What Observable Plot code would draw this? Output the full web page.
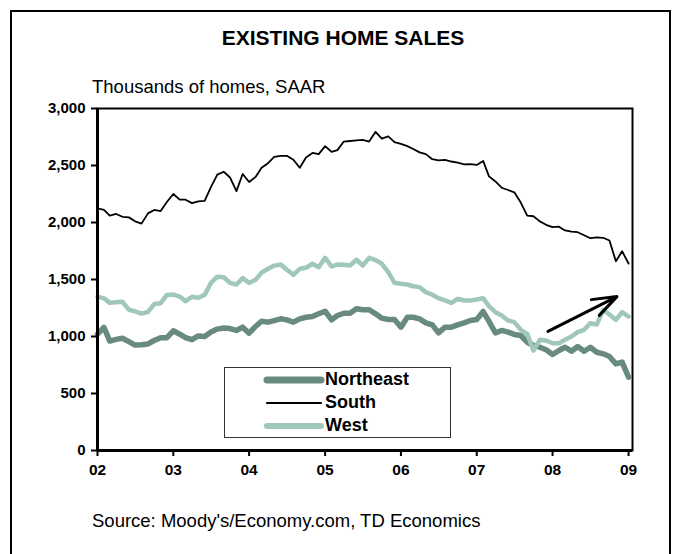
<!DOCTYPE html>
<html><head><meta charset="utf-8">
<script src="https://cdn.jsdelivr.net/npm/d3@7"></script>
<script src="https://cdn.jsdelivr.net/npm/@observablehq/plot@0.6"></script>
<style>
body{margin:0;background:#fff;font-family:Arial,"Liberation Sans",sans-serif;}
#wrap{position:relative;width:678px;height:554px;overflow:hidden;background:#fff;}
#border{position:absolute;left:10px;top:10px;width:657px;height:600px;border:2px solid #000;}
.t{position:absolute;white-space:nowrap;color:#000;}
#title{left:0;width:686px;top:26px;text-align:center;font-weight:bold;font-size:21px;}
#sub{left:92px;top:76px;font-size:18.5px;}
#src{left:92px;top:510px;font-size:18.5px;}
#chart{position:absolute;left:0;top:0;}
#legend{position:absolute;left:224px;top:367px;width:225px;height:69px;border:1px solid #333;background:#fff;}
.li{position:absolute;left:0;height:22px;width:225px;}
.li svg{position:absolute;left:38px;top:0;}
.li span{position:absolute;left:100px;top:0px;font-weight:bold;font-size:18px;line-height:21px;}
</style></head><body>
<div id="wrap">
  <div id="border"></div>
  <div id="chart"></div>
  <div class="t" id="title">EXISTING HOME SALES</div>
  <div class="t" id="sub">Thousands of homes, SAAR</div>
  <div class="t" id="src">Source: Moody's/Economy.com, TD Economics</div>
  <div id="legend"></div>
</div>
<script>
const seriesNames = ["Northeast", "South", "West"];
const seriesColors = ["#688a80", "#000000", "#9fc7bc"];
const seriesWidths = [5.5, 1.8, 4.5];

const northeast = [1020,1080,960,975,985,955,925,928,935,965,990,990,
 1050,1020,990,972,1005,1000,1040,1065,1075,1070,1053,1082,
 1029,1088,1134,1126,1140,1155,1146,1126,1155,1169,1175,1199,
 1222,1146,1184,1204,1204,1243,1234,1235,1199,1161,1149,1149,
 1082,1169,1169,1155,1120,1102,1032,1082,1082,1102,1120,1140,
 1149,1219,1132,1032,1053,1038,1018,1009,950,921,906,883,
 842,877,906,871,912,871,906,862,848,825,760,775,
 643];
const south = [2125,2110,2060,2075,2050,2045,2010,1990,2080,2110,2100,2180,
 2250,2200,2200,2170,2185,2190,2310,2420,2445,2395,2275,2425,
 2355,2400,2480,2520,2575,2585,2585,2550,2480,2570,2610,2600,
 2670,2620,2635,2710,2715,2720,2725,2710,2795,2735,2755,2705,
 2690,2670,2645,2615,2600,2555,2545,2550,2535,2525,2510,2512,
 2505,2540,2405,2360,2305,2285,2265,2175,2060,2055,2010,1980,
 1960,1963,1930,1920,1915,1888,1862,1870,1866,1842,1660,1748,
 1640];
const west = [1350,1335,1295,1300,1305,1235,1220,1200,1215,1285,1292,1365,
 1368,1350,1310,1348,1340,1365,1470,1525,1520,1470,1456,1512,
 1470,1497,1560,1594,1622,1632,1585,1541,1594,1603,1638,1608,
 1690,1614,1632,1630,1623,1673,1623,1690,1670,1638,1564,1471,
 1462,1456,1441,1433,1389,1366,1336,1316,1295,1331,1316,1316,
 1324,1336,1266,1213,1185,1140,1126,1059,1023,877,971,965,
 941,941,971,1000,1038,1059,1117,1105,1234,1193,1146,1213,
 1175];
const seriesValues = [northeast, south, west];

const xTickLabels = ["02","03","04","05","06","07","08","09"];
const yTicks = [0, 500, 1000, 1500, 2000, 2500, 3000];
const xDomain = [new Date(Date.UTC(2002,0,1)), new Date(Date.UTC(2009,0,20))];
const yDomain = [0, 3000];

// annotation arrow (date/value endpoints)
const arrowData = [{x1: new Date(Date.UTC(2007,11,10)), y1: 1045, x2: new Date(Date.UTC(2008,10,6)), y2: 1350}];

const months = d3.utcMonth.range(new Date(Date.UTC(2002,0,1)), new Date(Date.UTC(2009,1,1)));
const xTicks = xTickLabels.map(s => new Date(Date.UTC(2000 + +s, 0, 1)));

const rows = [];
seriesNames.forEach((name, si) => {
  seriesValues[si].forEach((v, i) => rows.push({series: name, date: months[i], value: v}));
});

const lineMarks = seriesNames.map((name, si) =>
  Plot.line(rows.filter(d => d.series === name), {
    x: "date", y: "value", stroke: seriesColors[si], strokeWidth: seriesWidths[si],
    strokeLinejoin: "round", strokeLinecap: "round", curve: "linear"
  })
);

const chart = Plot.plot({
  width: 678, height: 554,
  marginLeft: 97, marginRight: 46, marginTop: 108, marginBottom: 104,
  style: {fontFamily: "Arial, 'Liberation Sans', sans-serif", fontSize: "15px", fontWeight: "bold", color: "#000", background: "transparent"},
  x: {type: "utc", domain: xDomain},
  y: {domain: yDomain},
  marks: [
    Plot.frame({stroke: "#000", strokeWidth: 2}),
    ...lineMarks,
    Plot.arrow(arrowData, {x1: "x1", y1: "y1", x2: "x2", y2: "y2", stroke: "#000", strokeWidth: 3, headLength: 15, headAngle: 40}),
    Plot.ruleY([yDomain[0]], {stroke: "#000", strokeWidth: 3}),
    Plot.ruleX([xDomain[0]], {stroke: "#000", strokeWidth: 3}),
    Plot.axisY({ticks: yTicks, tickSize: 6, tickPadding: 6, strokeWidth: 2, tickFormat: d3.format(","), label: null, fontWeight: "bold", fontSize: 15}),
    Plot.axisX({ticks: xTicks, tickSize: 6, tickPadding: 7, strokeWidth: 2, tickFormat: (d, i) => xTickLabels[i], label: null, fontWeight: "bold", fontSize: 15.5})
  ]
});
document.getElementById("chart").appendChild(chart);

// legend
const legend = document.getElementById("legend");
const rowCenters = [12, 35, 58];
seriesNames.forEach((name, si) => {
  const div = document.createElement("div");
  div.className = "li";
  div.style.top = (rowCenters[si] - 11) + "px";
  div.innerHTML = `<svg width="62" height="22"><line x1="4" x2="58" y1="11" y2="11" stroke="${seriesColors[si]}" stroke-width="${seriesWidths[si] + (si===1?0.4:1.5)}" stroke-linecap="round"/></svg><span>${name}</span>`;
  legend.appendChild(div);
});
</script>
</body></html>
